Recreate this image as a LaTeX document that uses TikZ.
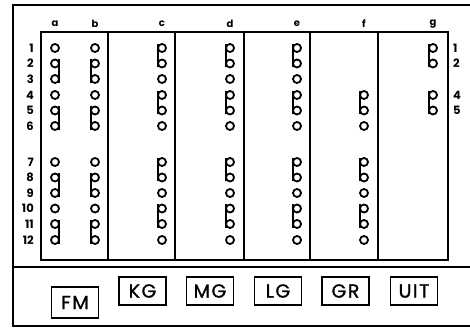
\documentclass[tikz,border=0pt]{standalone}
\usepackage{fontspec}
\setmainfont{Poppins}
\newfontfamily\gaugefont[LetterSpace=8, FakeBold=1.2]{Poppins}
\usetikzlibrary{positioning}

\begin{document}
\begin{tikzpicture}[x=1pt, y=-1pt,
    hole/.style={draw, circle, line width=1.8pt, minimum size=8pt, inner sep=0pt, outer sep=0pt},
    stem/.style={line width=2.8pt},
    frame/.style={line width=1.3pt},
    collbl/.style={font=\bfseries\fontsize{10}{10}\selectfont},
    rowlbl/.style={font=\bfseries\fontsize{11.5}{11.5}\selectfont, anchor=east, inner sep=0pt},
    gauge/.style={draw, line width=1.3pt, minimum width=47pt, minimum height=28pt, inner sep=0pt, font=\gaugefont\fontsize{19}{19}\selectfont}
]
\useasboundingbox (0,0) rectangle (470,336);

\draw[frame] (470,5) -- (13,5) -- (13,326) -- (470,326);
\draw[frame] (13,267) -- (470,267);
\draw[frame] (41,32) rectangle (448,260);
\foreach \x in {108,175,244,310,378}
  \draw[frame] (\x,32) -- (\x,260);

\foreach \col/\x in {a/55,b/95,c/162,d/230,e/297,f/364,g/433} {
  \coordinate (col\col) at (\x,0);
  \node[collbl] (lbl\col) at (\x,24) {\col};
}

\foreach \r/\y in {1/48,2/63.5,3/79,4/95,5/110.5,6/126,7/162,8/177.5,9/193,10/208.5,11/224,12/240} {
  \coordinate (row\r) at (0,\y);
  \node[rowlbl] (num\r) at (34,\y) {\r};
}
\foreach \r in {1,2,4,5}
  \node[rowlbl, anchor=west] (rnum\r) at ([xshift=453pt]row\r) {\r};

\foreach \col in {a,b,c,d,e}
  \foreach \r in {1,...,12}
    \node[hole] (\col\r) at (col\col |- row\r) {};
\foreach \r in {4,...,12}
  \node[hole] (f\r) at (colf |- row\r) {};
\foreach \r in {1,2,4,5}
  \node[hole] (g\r) at (colg |- row\r) {};

\foreach \r in {2,5,8,11} {
  \pgfmathtruncatemacro\s{\r+1}
  \draw[stem] (a\r.east |- a\r.north) -- (a\s.east |- a\s.south);
  \draw[stem] (b\r.west |- b\r.north) -- (b\s.west |- b\s.south);
}
\foreach \col/\r in {c/1,c/4,c/7,c/10,d/1,d/4,d/7,d/10,e/1,e/4,e/7,e/10,f/4,f/7,f/10,g/1,g/4} {
  \pgfmathtruncatemacro\s{\r+1}
  \draw[stem] (\col\r.west |- \col\r.north) -- (\col\s.west |- \col\s.south);
}

\node[gauge, minimum height=31pt] (fm) at (75,302.5) {FM};
\node[gauge] (kg) at (142.5,291) {KG};
\node[gauge] (mg) at (210,291) {MG};
\node[gauge] (lg) at (278,291) {LG};
\node[gauge] (gr) at (345.5,291) {GR};
\node[gauge] (uit) at (414,291) {UIT};

\end{tikzpicture}
\end{document}
